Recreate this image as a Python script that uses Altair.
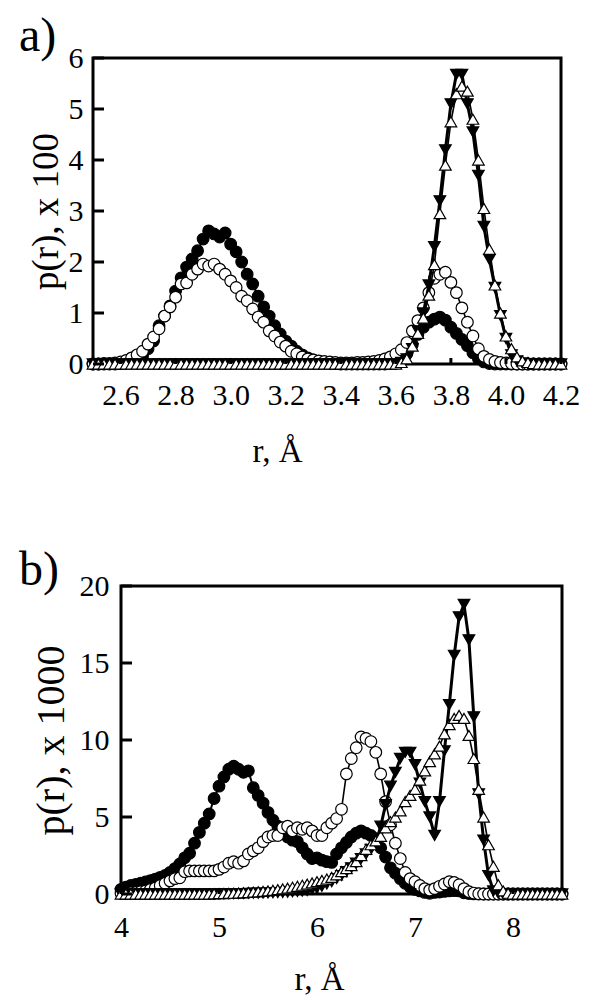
import altair as alt
import pandas as pd

# ---------------- panel a data (r in Angstrom, p(r) x 100) ----------------
r_a = [2.50, 2.52, 2.54, 2.56, 2.58, 2.60, 2.62, 2.64, 2.66, 2.68,
       2.70, 2.72, 2.74, 2.76, 2.78, 2.80, 2.82, 2.84, 2.86, 2.88,
       2.90, 2.92, 2.94, 2.96, 2.98, 3.00, 3.02, 3.04, 3.06, 3.08,
       3.10, 3.12, 3.14, 3.16, 3.18, 3.20, 3.22, 3.24, 3.26, 3.28,
       3.30, 3.32, 3.34, 3.36, 3.38, 3.40, 3.42, 3.44, 3.46, 3.48,
       3.50, 3.52, 3.54, 3.56, 3.58, 3.60, 3.62, 3.64, 3.66, 3.68,
       3.70, 3.72, 3.74, 3.76, 3.78, 3.80, 3.82, 3.84, 3.86, 3.88,
       3.90, 3.92, 3.94, 3.96, 3.98, 4.00, 4.02, 4.04, 4.06, 4.08,
       4.10, 4.12, 4.14, 4.16, 4.18, 4.20]

a_filled_circle = [0, 0, 0, 0, 0, 0.01, 0.02, 0.04, 0.08, 0.15,
                   0.30, 0.45, 0.75, 0.94, 1.14, 1.43, 1.69, 1.90, 2.06, 2.22,
                   2.45, 2.61, 2.55, 2.49, 2.57, 2.35, 2.20, 2.00, 1.76, 1.57,
                   1.33, 1.12, 0.94, 0.75, 0.59, 0.45, 0.35, 0.25, 0.18, 0.12,
                   0.08, 0.05, 0.03, 0.02, 0.01, 0, 0, 0, 0, 0,
                   0, 0, 0, 0, 0.01, 0.02, 0.06, 0.20, 0.38, 0.58,
                   0.72, 0.82, 0.88, 0.92, 0.86, 0.72, 0.60, 0.48, 0.36, 0.22,
                   0.10, 0.04, 0.01, 0, 0, 0, 0, 0, 0, 0,
                   0, 0, 0, 0, 0, 0]

a_open_circle = [0, 0, 0.01, 0.01, 0.02, 0.04, 0.07, 0.12, 0.18, 0.25,
                 0.39, 0.53, 0.69, 0.94, 1.12, 1.31, 1.57, 1.59, 1.76, 1.86,
                 1.96, 1.92, 1.96, 1.86, 1.76, 1.63, 1.50, 1.33, 1.24, 1.08,
                 0.92, 0.82, 0.65, 0.55, 0.43, 0.35, 0.25, 0.20, 0.14, 0.10,
                 0.08, 0.06, 0.05, 0.04, 0.03, 0.02, 0.02, 0.02, 0.03, 0.03,
                 0.04, 0.05, 0.07, 0.10, 0.14, 0.20, 0.28, 0.42, 0.65, 0.85,
                 1.10, 1.40, 1.68, 1.76, 1.80, 1.60, 1.40, 1.10, 0.82, 0.55,
                 0.30, 0.15, 0.09, 0.05, 0.03, 0.02, 0.01, 0, 0, 0,
                 0, 0, 0, 0, 0, 0]

a_filled_tri_down = [0] * 56 + [
    0.03, 0.10, 0.30, 0.65, 1.00, 1.55, 2.30, 3.20, 4.20, 5.10,
    5.68, 5.68, 5.10, 4.55, 3.70, 2.70, 2.05, 1.50, 0.95, 0.50,
    0.18, 0.06, 0.02, 0, 0, 0, 0, 0, 0, 0]

a_open_tri_up = [0] * 56 + [
    0.03, 0.10, 0.35, 0.60, 0.90, 1.35, 1.95, 2.95, 3.90, 4.75,
    5.30, 5.45, 5.35, 4.80, 4.00, 3.05, 2.25, 1.55, 1.00, 0.55,
    0.30, 0.14, 0.06, 0.03, 0.01, 0, 0, 0, 0, 0]

# ---------------- panel b data (r in Angstrom, p(r) x 1000) ----------------
r_b = [4.00, 4.05, 4.10, 4.15, 4.20, 4.25, 4.30, 4.35, 4.40, 4.45,
       4.50, 4.55, 4.60, 4.65, 4.70, 4.75, 4.80, 4.85, 4.90, 4.95,
       5.00, 5.05, 5.10, 5.15, 5.20, 5.25, 5.30, 5.35, 5.40, 5.45,
       5.50, 5.55, 5.60, 5.65, 5.70, 5.75, 5.80, 5.85, 5.90, 5.95,
       6.00, 6.05, 6.10, 6.15, 6.20, 6.25, 6.30, 6.35, 6.40, 6.45,
       6.50, 6.55, 6.60, 6.65, 6.70, 6.75, 6.80, 6.85, 6.90, 6.95,
       7.00, 7.05, 7.10, 7.15, 7.20, 7.25, 7.30, 7.35, 7.40, 7.45,
       7.50, 7.55, 7.60, 7.65, 7.70, 7.75, 7.80, 7.85, 7.90, 7.95,
       8.00, 8.05, 8.10, 8.15, 8.20, 8.25, 8.30, 8.35, 8.40, 8.45,
       8.50]

b_filled_circle = [0.30, 0.45, 0.55, 0.62, 0.70, 0.78, 0.87, 0.97, 1.08, 1.20,
                   1.40, 1.65, 1.95, 2.35, 2.65, 3.30, 4.00, 4.60, 5.20, 6.20,
                   7.00, 7.60, 8.10, 8.30, 8.10, 7.90, 8.00, 6.90, 6.40, 5.90,
                   5.30, 4.80, 4.40, 4.10, 3.70, 3.50, 3.40, 3.00, 2.60, 2.30,
                   2.35, 2.20, 2.10, 2.05, 2.60, 3.00, 3.35, 3.70, 3.95, 4.10,
                   3.95, 3.80, 3.60, 3.00, 2.40, 1.70, 1.35, 1.00, 0.70, 0.45,
                   0.30, 0.20, 0.10, 0.05, 0.10, 0.13, 0.17, 0.20, 0.22, 0.20,
                   0.08, 0.03, 0.01, 0, 0, 0, 0, 0, 0, 0,
                   0, 0, 0, 0, 0, 0, 0, 0, 0, 0,
                   0]

b_open_circle = [0.05, 0.05, 0.08, 0.10, 0.15, 0.20, 0.30, 0.40, 0.55, 0.70,
                 0.85, 1.00, 1.05, 1.45, 1.50, 1.50, 1.50, 1.50, 1.50, 1.50,
                 1.60, 1.75, 2.00, 2.10, 2.00, 2.15, 2.60, 2.80, 3.00, 3.40,
                 3.70, 3.80, 3.80, 4.30, 4.40, 4.10, 4.30, 4.20, 4.30, 4.10,
                 3.80, 3.80, 4.30, 4.60, 4.90, 5.50, 7.80, 8.80, 9.50, 10.20,
                 10.10, 9.90, 9.20, 7.80, 6.00, 4.50, 3.30, 2.30, 1.40, 1.00,
                 0.80, 0.55, 0.35, 0.25, 0.35, 0.50, 0.65, 0.80, 0.75, 0.60,
                 0.35, 0.15, 0.06, 0.02, 0, 0, 0, 0, 0, 0,
                 0, 0, 0, 0, 0, 0, 0, 0, 0, 0,
                 0]

b_filled_tri_down = [0] * 20 + [
    0.01, 0.01, 0.02, 0.02, 0.03, 0.03, 0.04, 0.05, 0.05, 0.06,
    0.07, 0.08, 0.09, 0.10, 0.12, 0.14, 0.16, 0.19, 0.22, 0.30,
    0.40, 0.50, 0.65, 0.80, 1.00, 1.20, 1.45, 1.70, 2.00, 2.30,
    2.60, 2.90, 3.30, 4.40, 5.80, 7.00, 7.90, 8.80, 9.20, 9.20,
    8.40, 7.20, 6.00, 5.00, 3.80, 6.00, 9.30, 12.30, 15.50, 18.00,
    18.80, 16.50, 11.50, 6.50, 3.50, 1.20, 0.20, 0.05, 0, 0,
    0, 0, 0, 0, 0, 0, 0, 0, 0, 0,
    0]

b_open_tri_up = [0] * 19 + [
    0.01, 0.02, 0.03, 0.04, 0.05, 0.06, 0.08, 0.10, 0.12, 0.14,
    0.17, 0.20, 0.24, 0.28, 0.33, 0.38, 0.44, 0.50, 0.57, 0.64,
    0.72, 0.80, 0.88, 0.97, 1.08, 1.25, 1.45, 1.65, 1.85, 2.10,
    2.50, 2.90, 3.20, 3.45, 3.75, 4.30, 4.70, 5.00, 5.40, 6.00,
    6.40, 6.80, 7.40, 8.00, 8.60, 9.10, 9.60, 10.40, 11.00, 11.40,
    11.60, 11.40, 10.30, 8.80, 6.80, 5.00, 3.20, 1.80, 0.60, 0.20,
    0.05, 0, 0, 0, 0, 0, 0, 0, 0, 0,
    0, 0]

# ---------------- tick / label values ----------------
a_xticks = [2.6, 2.8, 3.0, 3.2, 3.4, 3.6, 3.8, 4.0, 4.2]
a_yticks = [0, 1, 2, 3, 4, 5, 6]
b_xticks = [4, 5, 6, 7, 8]
b_yticks = [0, 5, 10, 15, 20]

FONT = "Liberation Serif"

STYLES = [
    # (shape, fill, line width)
    ("circle", "black", 2.0),
    ("circle", "white", 1.6),
    ("triangle-down", "black", 3.0),
    ("triangle-up", "white", 1.6),
]


def panel(r, series, xdom, ydom, xticks, yticks, xfmt, w, h, tag, tag_x, tag_y,
          ytitle, ytitle_x, ytitle_fs, ylabpad, xtitle_x, xtitle_y, xlabpad):
    xaxis = alt.Axis(values=xticks, format=xfmt, title="r, Å", labelPadding=xlabpad,
                     titleX=xtitle_x, titleY=xtitle_y, titleBaseline="alphabetic",
                     titleAlign="center", titleFontSize=33)
    yaxis = alt.Axis(values=yticks, format="d", title=ytitle, labelPadding=ylabpad,
                     titleX=ytitle_x, titleBaseline="middle", titleAlign="center",
                     titleFontSize=ytitle_fs)
    xs = alt.Scale(domain=xdom, nice=False, zero=False)
    ys = alt.Scale(domain=ydom, nice=False, zero=False)
    layers = []
    for vals, (shape, fill, lw) in zip(series, STYLES):
        df = pd.DataFrame({"r": r, "v": vals})
        base = alt.Chart(df).encode(
            x=alt.X("r:Q", scale=xs, axis=xaxis),
            y=alt.Y("v:Q", scale=ys, axis=yaxis),
        )
        layers.append(base.mark_line(color="black", strokeWidth=lw, clip=False))
        layers.append(base.mark_point(shape=shape, filled=True, fill=fill, stroke="black",
                                      strokeWidth=1.2, size=135, opacity=1, clip=False))
    ytick_df = pd.DataFrame({"v": yticks})
    layers.append(alt.Chart(ytick_df).mark_rule(color="black", strokeWidth=3).encode(
        y=alt.Y("v:Q", scale=ys, axis=yaxis), x=alt.value(0), x2=alt.value(11)))
    xtick_df = pd.DataFrame({"r": xticks})
    layers.append(alt.Chart(xtick_df).mark_rule(color="black", strokeWidth=3).encode(
        x=alt.X("r:Q", scale=xs, axis=xaxis), y=alt.value(h), y2=alt.value(h - 6)))
    tag_df = pd.DataFrame({"t": [tag]})
    layers.append(alt.Chart(tag_df).mark_text(
        font=FONT, fontSize=48, align="left", baseline="alphabetic", color="black"
    ).encode(text="t:N", x=alt.value(tag_x), y=alt.value(tag_y)))
    return alt.layer(*layers).properties(width=w, height=h)


pa = panel(r_a, [a_filled_circle, a_open_circle, a_filled_tri_down, a_open_tri_up],
           [2.5, 4.2], [0, 6], a_xticks, a_yticks, ".1f", 468, 306,
           "a)", -74, -7, "p(r), x 100", -47, 37, 10, 184, 97, 16)
pb = panel(r_b, [b_filled_circle, b_open_circle, b_filled_tri_down, b_open_tri_up],
           [4, 8.5], [0, 20], b_xticks, b_yticks, "d", 441, 308,
           "b)", -102, -1, "p(r), x 1000", -70, 40, 12, 198, 95, 18)

# an empty 1px view that shifts panel b to the right of panel a's frame
spacer = alt.Chart(pd.DataFrame({"t": [""]})).mark_point(opacity=0).encode(
    x=alt.value(0), y=alt.value(0)
).properties(width=1, height=1, view=alt.ViewBackground(strokeOpacity=0))

row_b = alt.hconcat(spacer, pb, spacing=27, bounds="flush")

chart = alt.vconcat(pa, row_b, spacing=75).properties(
    padding={"left": 9, "top": 3, "right": 0, "bottom": 0}
).configure_view(
    stroke="black", strokeWidth=3
).configure_axis(
    domain=False, ticks=False, grid=False, labelFlush=False, labelOverlap=False,
    labelFont=FONT, labelFontSize=30, labelColor="black",
    titleFont=FONT, titleFontWeight="normal", titleColor="black"
)

chart.save("out.html", embed_options={"renderer": "svg", "actions": False})
